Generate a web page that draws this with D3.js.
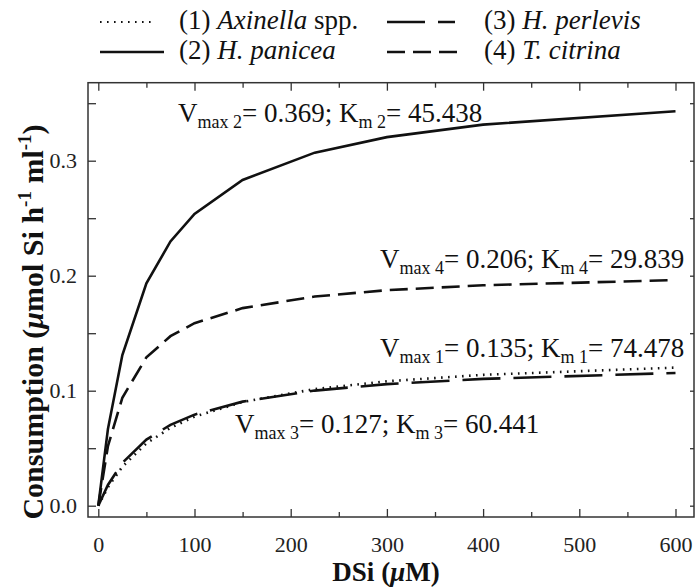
<!DOCTYPE html>
<html lang="en">
<head>
<meta charset="UTF-8">
<title>Si consumption</title>
<script src="https://d3js.org/d3.v7.min.js"></script>
<style>
  body { margin: 0; background: #fff; }
  svg text { font-family: "Liberation Serif", "Times New Roman", serif; fill: #111; }
  .frame { fill: none; stroke: #333; stroke-width: 1.5px; }
  .ax path { stroke-width: 0; }
  .ax line { stroke: #333; stroke-width: 1.3px; }
  .ax text { font-size: 22px; fill: #222; }
  .curve { fill: none; stroke: #111; stroke-width: 2.6px; }
</style>
</head>
<body>
<div id="chart"></div>
<script>
  // data
  const dsi = [0, 10, 25, 50, 75, 100, 150, 225, 300, 400, 600];
  const axinella = [0, 0.0160, 0.0339, 0.0542, 0.0677, 0.0774, 0.0902, 0.1014, 0.1082, 0.1138, 0.1201];
  const panicea  = [0, 0.0666, 0.1310, 0.1933, 0.2298, 0.2537, 0.2832, 0.3070, 0.3205, 0.3314, 0.3430];
  const perlevis = [0, 0.0180, 0.0372, 0.0575, 0.0703, 0.0792, 0.0905, 0.1001, 0.1057, 0.1103, 0.1154];
  const citrina  = [0, 0.0517, 0.0939, 0.1290, 0.1474, 0.1587, 0.1718, 0.1819, 0.1874, 0.1917, 0.1962];

  const xMajor = [0, 100, 200, 300, 400, 500, 600];
  const xMinor = [50, 150, 250, 350, 450, 550];
  const yMajor = [0, 0.1, 0.2, 0.3];
  const yMinor = [0.05, 0.15, 0.25, 0.35];

  const labelNum = ["(1)", "(2)", "(3)", "(4)"];
  const labelSp = ["Axinella", "H. panicea", "H. perlevis", "T. citrina"];
  const labelTail = [" spp.", "", "", ""];

  // kinetics annotations
  const annIdx = ["2", "4", "1", "3"];
  const annV = ["0.369", "0.206", "0.135", "0.127"];
  const annK = ["45.438", "29.839", "74.478", "60.441"];

  const FONT = "'Liberation Serif', 'Times New Roman', serif";
  const W = 695, H = 588;
  const fr = { left: 88, right: 694, top: 82.7, bottom: 517 };

  const svg = d3.select("#chart").append("svg")
    .attr("width", W).attr("height", H)
    .attr("font-family", FONT);

  const x = d3.scaleLinear().domain([0, 600]).range([98.3, 675.5]);
  const y = d3.scaleLinear().domain([0, 0.3]).range([505.7, 160.7]);

  const axisG = (tr) => svg.append("g").attr("class", "ax")
    .attr("transform", tr);

  // ticks (all pointing inward)
  const fmtY = d3.format(".1f");
  axisG(`translate(0,${fr.bottom})`)
    .call(d3.axisBottom(x).tickValues(xMajor).tickSizeInner(-8).tickSizeOuter(0).tickPadding(19));
  axisG(`translate(0,${fr.bottom})`)
    .call(d3.axisBottom(x).tickValues(xMinor).tickSizeInner(-5).tickSizeOuter(0).tickFormat(""));
  axisG(`translate(0,${fr.top})`)
    .call(d3.axisTop(x).tickValues(xMajor).tickSizeInner(-8).tickSizeOuter(0).tickFormat(""));
  axisG(`translate(0,${fr.top})`)
    .call(d3.axisTop(x).tickValues(xMinor).tickSizeInner(-5).tickSizeOuter(0).tickFormat(""));
  axisG(`translate(${fr.left},0)`)
    .call(d3.axisLeft(y).tickValues(yMajor).tickSizeInner(-8).tickSizeOuter(0).tickPadding(11).tickFormat(fmtY));
  axisG(`translate(${fr.left},0)`)
    .call(d3.axisLeft(y).tickValues(yMinor).tickSizeInner(-8).tickSizeOuter(0).tickFormat(""));
  axisG(`translate(${fr.right},0)`)
    .call(d3.axisRight(y).tickValues(yMajor.concat(yMinor)).tickSizeInner(-4).tickSizeOuter(0).tickFormat(""));
  svg.selectAll(".ax").attr("font-family", FONT).attr("font-size", 22);

  svg.append("rect").attr("class", "frame")
    .attr("x", fr.left).attr("y", fr.top)
    .attr("width", fr.right - fr.left).attr("height", fr.bottom - fr.top);

  // curves
  const dashes = ["1.6,5.4", null, "38,13", "18,8"];
  const widths = [1.8, 2.6, 2.6, 2.6];
  const series = [axinella, panicea, perlevis, citrina];
  const line = d3.line().x((d, i) => x(dsi[i])).y(d => y(d));

  // H. perlevis first so the Axinella dots sit on top
  [2, 3, 1, 0].forEach(k => {
    svg.append("path").attr("class", "curve")
      .attr("d", line(series[k]))
      .attr("stroke-width", widths[k])
      .attr("stroke-dasharray", dashes[k]);
  });

  // annotations
  const annPos = [[178, 122], [380, 268], [380, 357], [235, 433]];
  annIdx.forEach((s, i) => {
    const t = svg.append("text")
      .attr("x", annPos[i][0]).attr("y", annPos[i][1])
      .attr("font-family", FONT).style("font-size", "27px");
    t.append("tspan").text("V");
    t.append("tspan").attr("dy", 6).style("font-size", "18px").text("max " + s);
    t.append("tspan").attr("dy", -6).text("= " + annV[i] + "; K");
    t.append("tspan").attr("dy", 6).style("font-size", "18px").text("m " + s);
    t.append("tspan").attr("dy", -6).text("= " + annK[i]);
  });

  // legend
  const legX = [100, 387], legTextX = [179, 484], legY = [22, 52];
  const legLen = [52, 64, 68, 71];
  [0, 1, 2, 3].forEach(k => {
    const col = k < 2 ? 0 : 1, row = k % 2;
    svg.append("line")
      .attr("x1", legX[col]).attr("x2", legX[col] + legLen[k])
      .attr("y1", legY[row]).attr("y2", legY[row])
      .attr("stroke", "#111").attr("stroke-width", widths[k])
      .attr("stroke-dasharray", dashes[k]);
    const t = svg.append("text")
      .attr("x", legTextX[col]).attr("y", legY[row] + 7)
      .attr("font-family", FONT).style("font-size", "27px");
    t.append("tspan").text(labelNum[k] + " ");
    t.append("tspan").style("font-style", "italic").text(labelSp[k]);
    if (labelTail[k]) t.append("tspan").text(labelTail[k]);
  });

  // axis titles
  const xt = svg.append("text")
    .attr("x", 386).attr("y", 581).attr("text-anchor", "middle")
    .attr("font-family", FONT)
    .style("font-size", "27px").style("font-weight", "bold");
  xt.append("tspan").text("DSi (");
  xt.append("tspan").style("font-style", "italic").text("\u03bc");
  xt.append("tspan").text("M)");

  const yt = svg.append("text")
    .attr("transform", "translate(43,322) rotate(-90)")
    .attr("text-anchor", "middle")
    .attr("font-family", FONT)
    .style("font-size", "30px").style("font-weight", "bold");
  yt.append("tspan").text("Consumption (");
  yt.append("tspan").style("font-style", "italic").text("\u03bc");
  yt.append("tspan").text("mol Si h");
  yt.append("tspan").attr("dy", -12).style("font-size", "19px").text("-1");
  yt.append("tspan").attr("dy", 12).text(" ml");
  yt.append("tspan").attr("dy", -12).style("font-size", "19px").text("-1");
  yt.append("tspan").attr("dy", 12).text(")");
</script>
</body>
</html>
